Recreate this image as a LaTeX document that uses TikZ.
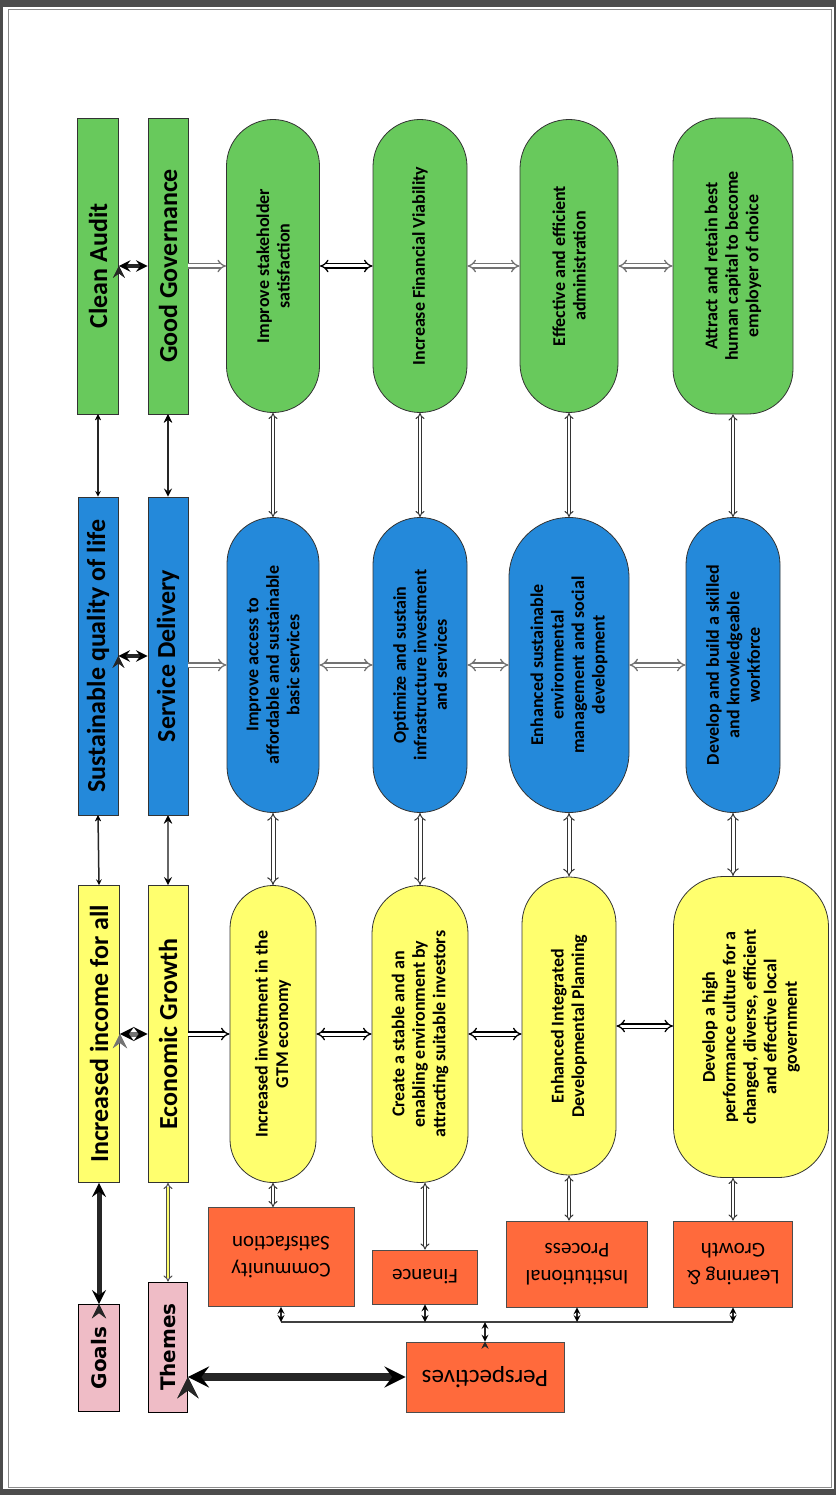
\documentclass[tikz,border=0pt]{standalone}
\usepackage{fontspec}
\setmainfont{Carlito}
\newfontfamily\widefont{DejaVu Sans}
\usetikzlibrary{arrows, shapes.misc}

\definecolor{ggreen}{HTML}{68C95C}
\definecolor{gblue}{HTML}{2489DA}
\definecolor{gyellow}{HTML}{FFFF6E}
\definecolor{gorange}{HTML}{FF6A3C}
\definecolor{gpink}{HTML}{EFBCC6}

\begin{document}
\begin{tikzpicture}[
            x = 1pt, y = -1pt,
            > = stealth,
            semithick
        ]
        \tikzstyle{band}=[
            draw = black!80,
            thick,
            rotate = 90,
            inner sep = 0pt,
            font = \fontsize{26}{28}\selectfont\bfseries
        ]
        \tikzstyle{pill}=[
            rounded rectangle,
            draw = black!80,
            thick,
            rotate = 90,
            align = center,
            inner sep = 0pt,
            font = \fontsize{18}{20.5}\selectfont\bfseries
        ]
        \tikzstyle{obox}=[
            draw = black!70,
            thick,
            fill = gorange,
            rotate = 180,
            align = center,
            font = \fontsize{21}{27}\selectfont
        ]
        \tikzstyle{pbox}=[
            draw = black,
            thick,
            fill = gpink,
            rotate = 90,
            inner sep = 0pt,
            font = \widefont\fontsize{20}{22}\selectfont\bfseries
        ]
        \tikzstyle{hollow}=[
            draw = black!55,
            double = white,
            double distance = 3pt,
            line width = 1.3pt,
            implies-implies
        ]
        \tikzstyle{dark}=[
            draw = black!85,
            line width = 2.5pt,
            <->
        ]

        \useasboundingbox (0,0) rectangle (836,1495);
        \fill[black!70] (0,0) rectangle (836,1495);
        \fill[white] (3,7) rectangle (834,1489);
        \draw[black!45] (8,9) rectangle (831,1487);

        \node[band, fill = ggreen, minimum width = 296pt, minimum height = 41pt] (ca) at (98,266) {Clean Audit};
        \node[band, fill = ggreen, minimum width = 296pt, minimum height = 40pt] (gg) at (168,266) {Good Governance};
        \node[pill, fill = ggreen, minimum width = 293pt, minimum height = 93pt] (g1) at (273,266) {Improve stakeholder\\satisfaction};
        \node[pill, fill = ggreen, minimum width = 293pt, minimum height = 94pt] (g2) at (420,266) {Increase Financial Viability};
        \node[pill, fill = ggreen, minimum width = 293pt, minimum height = 98pt] (g3) at (569,266) {Effective and efficient\\administration};
        \node[pill, rectangle, rounded corners = 45pt, fill = ggreen, minimum width = 296pt, minimum height = 120pt] (g4) at (733,266) {Attract and retain best\\human capital to become\\employer of choice};

        \node[band, fill = gblue, minimum width = 318pt, minimum height = 40pt] (sq) at (98,656) {Sustainable quality of life};
        \node[band, fill = gblue, minimum width = 318pt, minimum height = 40pt] (sd) at (168,656) {Service Delivery};
        \node[pill, fill = gblue, minimum width = 295pt, minimum height = 92pt] (b1) at (273,665) {Improve access to\\affordable and sustainable\\basic services};
        \node[pill, fill = gblue, minimum width = 295pt, minimum height = 94pt] (b2) at (420,665) {Optimize and sustain\\infrastructure investment\\and services};
        \node[pill, fill = gblue, minimum width = 295pt, minimum height = 120pt] (b3) at (569,665) {Enhanced sustainable\\environmental\\management and social\\development};
        \node[pill, fill = gblue, minimum width = 295pt, minimum height = 94pt] (b4) at (733,665) {Develop and build a skilled\\and knowledgeable\\workforce};

        \node[band, fill = gyellow, minimum width = 297pt, minimum height = 41pt] (ii) at (99,1034) {Increased income for all};
        \node[band, fill = gyellow, minimum width = 297pt, minimum height = 40pt] (eg) at (168,1034) {Economic Growth};
        \node[pill, fill = gyellow, minimum width = 297pt, minimum height = 86pt] (y1) at (273,1034) {Increased investment in the\\GTM economy};
        \node[pill, fill = gyellow, minimum width = 297pt, minimum height = 96pt] (y2) at (420,1034) {Create a stable and an\\enabling environment by\\attracting suitable investors};
        \node[pill, fill = gyellow, minimum width = 298pt, minimum height = 94pt] (y3) at (569,1026) {Enhanced Integrated\\Developmental Planning};
        \node[pill, rectangle, rounded corners = 50pt, fill = gyellow, minimum width = 301pt, minimum height = 155pt] (y4) at (751,1027) {Develop a high\\performance culture for a\\changed, diverse, efficient\\and effective local\\government};

        \node[obox, minimum width = 146pt, minimum height = 99pt] (cs) at (281,1257) {Community\\Satisfaction};
        \node[obox, minimum width = 105pt, minimum height = 54pt] (fin) at (425,1277) {Finance};
        \node[obox, minimum width = 141pt, minimum height = 86pt] (ip) at (577,1264) {Institutional\\Process};
        \node[obox, minimum width = 119pt, minimum height = 86pt] (lg) at (733,1264) {Learning \&\\Growth};
        \node[obox, minimum width = 158pt, minimum height = 70pt, font = \fontsize{25}{27}\selectfont] (per) at (485,1377) {Perspectives};

        \node[pbox, minimum width = 107pt, minimum height = 41pt] (goals) at (99,1358) {Goals};
        \node[pbox, minimum width = 130pt, minimum height = 39pt] (themes) at (168,1347) {Themes};

        \coordinate (bus) at (0,1322);

        \path[dark, line width = 4pt] (ca.south) edge (gg.north);
        \draw[hollow, -implies] (gg.south) -- (g1.north);
        \draw[hollow, draw = black] (g1.south) -- (g2.north);
        \draw[hollow] (g2.south) -- (g3.north);
        \draw[hollow] (g3.south) -- (g4.north);

        \path[dark, line width = 1.5pt] (ca.west) edge (sq.east);
        \path[dark] (gg.west) edge (sd.east);
        \tikzstyle{thin}=[hollow, double distance = 2pt, line width = 1pt, draw = black!80]
        \draw[thin] (g1.west) -- (b1.east);
        \draw[thin] (g2.west) -- (b2.east);
        \draw[thin] (g3.west) -- (b3.east);
        \draw[thin] (g4.west) -- (b4.east);

        \path[dark, line width = 4pt] (sq.south) edge (sd.north);
        \draw[hollow, -implies] (b1.north -| sd.south) -- (b1.north);
        \draw[hollow] (b1.south) -- (b2.north);
        \draw[hollow] (b2.south) -- (b3.north);
        \draw[hollow] (b3.south) -- (b4.north);

        \path[dark, line width = 1.5pt] (sq.west) edge (ii.east);
        \path[dark, draw = black!60] (sd.west) edge (eg.east);
        \draw[thin, double distance = 3pt] (b1.west) -- (y1.east);
        \draw[thin, double distance = 3pt] (b2.west) -- (y2.east);
        \draw[thin, double distance = 3pt] (b3.west) -- (b3.west |- y3.east);
        \draw[thin, double distance = 3pt] (b4.west) -- (b4.west |- y4.east);

        \path[dark, draw = black!55, line width = 5pt] (ii.south) edge (eg.north);
        \draw[hollow, -implies, draw = black] (y1.north -| eg.south) -- (y1.north);
        \draw[hollow, draw = black] (y1.south) -- (y1.south -| y2.north);
        \draw[hollow, draw = black] (y2.south) -- (y2.south -| y3.north);
        \draw[hollow, draw = black] (y3.south) -- (y3.south -| y4.north);

        \draw[thin] (y1.west) -- (y1.west |- cs.south);
        \draw[thin] (fin.south |- y2.west) -- (fin.south);
        \draw[thin] (y3.west) -- (y3.west |- ip.south);
        \draw[thin] (lg.south |- y4.west) -- (lg.south);

        \draw[black!75, line width = 1.5pt] (cs.north |- bus) -- (lg.north |- bus);
        \path[dark, line width = 2pt] (cs.north) edge (cs.north |- bus)
                      (fin.north) edge (fin.north |- bus)
                      (ip.north) edge (ip.north |- bus)
                      (lg.north) edge (lg.north |- bus)
                      (per.south) edge (per.south |- bus);

        \path[dark, line width = 5pt] (goals.east) edge (ii.west);
        \draw[thin, draw = black!70, double = gyellow] (themes.east) -- (eg.west);
        \path[dark, line width = 8pt] (themes.south |- per.east) edge (per.east);
\end{tikzpicture}
\end{document}
